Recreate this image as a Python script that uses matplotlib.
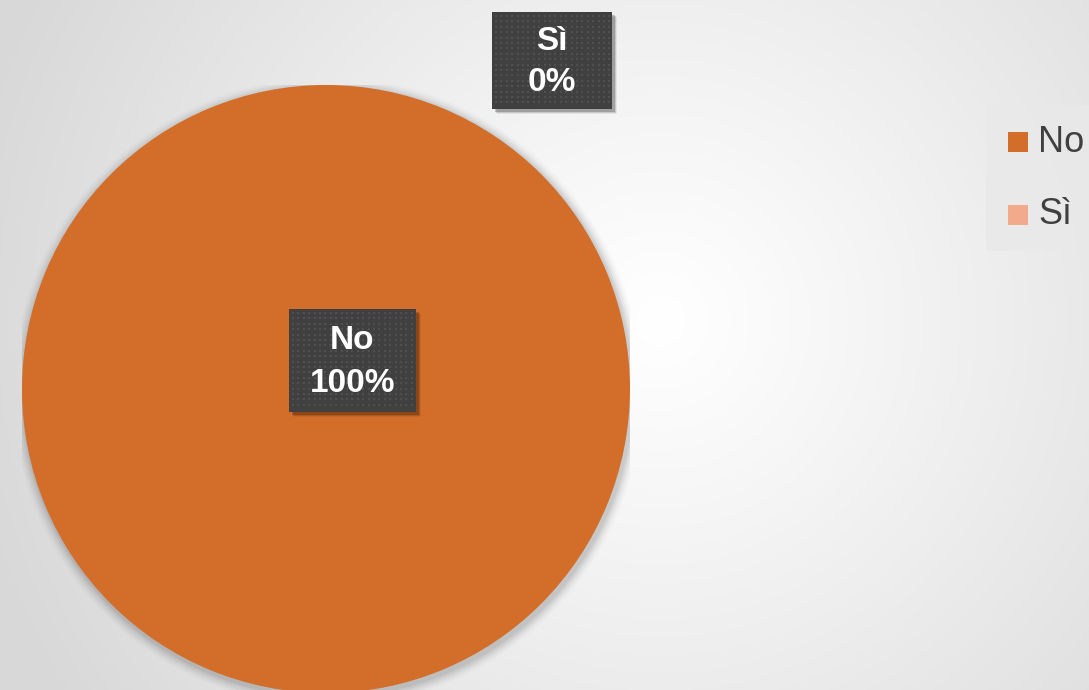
import numpy as np
import matplotlib
matplotlib.use("Agg")
import matplotlib.pyplot as plt
from matplotlib.patches import Rectangle
from matplotlib import font_manager as fm

categories = ["No", "Sì"]
values = [100, 0]
colors = ["#D36D2A", "#F2A98C"]
pct_labels = ["100%", "0%"]

def find_font(name):
    for f in fm.findSystemFonts():
        if f.endswith(name):
            return f
    return None

reg_path = find_font("LiberationSans-Regular.ttf")
bold_path = find_font("LiberationSans-Bold.ttf")
FP_REG = fm.FontProperties(fname=reg_path) if reg_path else fm.FontProperties(family="DejaVu Sans")
FP_BOLD = fm.FontProperties(fname=bold_path) if bold_path else fm.FontProperties(family="DejaVu Sans", weight="bold")

W, H = 1089, 690
fig = plt.figure(figsize=(W / 100, H / 100), dpi=100)

# background radial gradient
bg = fig.add_axes([0, 0, 1, 1], zorder=0)
yy, xx = np.mgrid[0:H, 0:W]
cx, cy = 660, 320
d = np.sqrt((xx - cx) ** 2 + (yy - cy) ** 2)
d = np.clip(d / 700.0, 0, 1)
shade = 1.0 - 0.15 * d ** 1.1
img = np.dstack([shade, shade, shade])
bg.imshow(img, extent=[0, W, H, 0], aspect="auto")
bg.set_xlim(0, W)
bg.set_ylim(H, 0)
bg.axis("off")

# pie axes
r = 304
pcx, pcy = 326, 389
ax = fig.add_axes([(pcx - r) / W, (H - pcy - r) / H, 2 * r / W, 2 * r / H], zorder=1)
for i, a in enumerate(np.linspace(0.05, 0.01, 6)):
    ax.add_patch(plt.Circle((0.005, -0.01), 1.0 + 0.006 * (i + 1), color="black", alpha=a, lw=0))
wedges, _ = ax.pie(values, colors=colors, startangle=90, counterclock=False,
                   radius=1.0, wedgeprops=dict(linewidth=0))
ax.set_xlim(-1, 1)
ax.set_ylim(-1, 1)
ax.set_aspect("auto")
ax.axis("off")

# overlay for labels and legend
ov = fig.add_axes([0, 0, 1, 1], zorder=2)
ov.set_xlim(0, W)
ov.set_ylim(H, 0)
ov.axis("off")
ov.patch.set_alpha(0)

def label_box(x0, y0, x1, y1, cat, pct):
    for k, a in enumerate([0.2, 0.12, 0.06]):
        ov.add_patch(Rectangle((x0 + 3 + k, y0 + 3 + k), x1 - x0, y1 - y0,
                               facecolor="black", alpha=a, lw=0, zorder=3))
    ov.add_patch(Rectangle((x0, y0), x1 - x0, y1 - y0, facecolor="#404040",
                           edgecolor="none", zorder=4))
    px = np.arange(x0 + 4, x1 - 2, 5.4)
    py = np.arange(y0 + 4, y1 - 2, 5.4)
    PX, PY = np.meshgrid(px, py)
    ov.scatter(PX.ravel(), PY.ravel(), s=0.8, marker="s", color="#505050",
               lw=0, zorder=5)
    xc = (x0 + x1) / 2
    yc = (y0 + y1) / 2
    fp = FP_BOLD.copy()
    fp.set_size(24)
    ov.text(xc, yc - (y1 - y0) * 0.195, cat, color="white", fontproperties=fp,
            ha="center", va="center", zorder=6)
    ov.text(xc, yc + (y1 - y0) * 0.225, pct, color="white", fontproperties=fp,
            ha="center", va="center", zorder=6)

label_box(289, 309, 416, 412, categories[0], pct_labels[0])
label_box(492, 12, 612, 109, categories[1], pct_labels[1])

# legend
ov.add_patch(Rectangle((986, 105), 110, 146, facecolor="#e9e9e9", alpha=0.8,
                       lw=0, zorder=3))
fpl = FP_REG.copy()
fpl.set_size(26)
for i, (cat, col) in enumerate(zip(categories, colors)):
    y = 142 + i * 73
    ov.add_patch(Rectangle((1008, y - 10), 20, 20, facecolor=col, lw=0, zorder=4))
    ov.text(1038, y, cat, color="#404040", fontproperties=fpl, ha="left",
            va="center", zorder=5)

fig.savefig("out.png", dpi=100)
